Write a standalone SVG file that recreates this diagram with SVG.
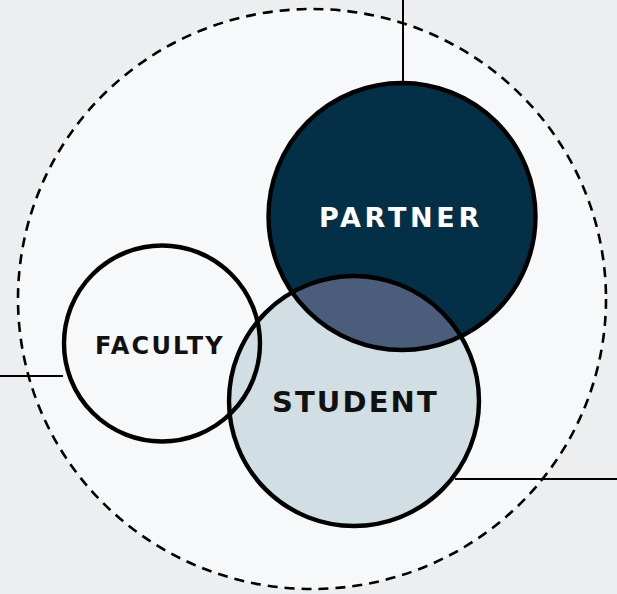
<svg xmlns="http://www.w3.org/2000/svg" width="617" height="594" viewBox="0 0 617 594">
<style>
.lbl{font-family:"DejaVu Sans","Liberation Sans",sans-serif;font-weight:bold;}
.ring{fill:none;stroke:#000;stroke-width:4.4;}
.conn{stroke:#000;stroke-width:2;fill:none;}
</style>
<defs>
<clipPath id="clipStudent"><circle cx="354" cy="401" r="125"/></clipPath>
</defs>
<rect x="0" y="0" width="617" height="594" fill="#eceef0"/>
<ellipse cx="312" cy="299" rx="294" ry="290" fill="#f7f8f9"/>
<g id="connectors">
<line class="conn" x1="403" y1="0" x2="403" y2="82"/>
<line class="conn" x1="0" y1="376" x2="63" y2="376"/>
<line class="conn" x1="455" y1="479" x2="617" y2="479"/>
</g>
<g id="boundary">
<ellipse cx="312" cy="299" rx="294" ry="290" fill="none" stroke="#000" stroke-width="2.6" stroke-dasharray="10 7"/>
</g>
<g id="partner">
<circle cx="402" cy="216.5" r="133.5" fill="#033046"/>
</g>
<g id="student">
<circle cx="354" cy="401" r="125" fill="#d1dfe4"/>
</g>
<g id="overlap">
<circle cx="402" cy="216.5" r="133.5" fill="#4a5e7b" clip-path="url(#clipStudent)"/>
</g>
<g id="faculty">
<circle class="ring" cx="162" cy="343.5" r="98" stroke-width="4"/>
<text class="lbl" x="95" y="354" font-size="24" letter-spacing="2.2" fill="#111">FACULTY</text>
</g>
<g id="strokes">
<circle class="ring" cx="402" cy="216.5" r="133.5"/>
<circle class="ring" cx="354" cy="401" r="125"/>
</g>
<text class="lbl" x="319" y="227" font-size="27" letter-spacing="3.7" fill="#fff">PARTNER</text>
<text class="lbl" x="272" y="412" font-size="29" letter-spacing="2.1" fill="#111">STUDENT</text>
</svg>
